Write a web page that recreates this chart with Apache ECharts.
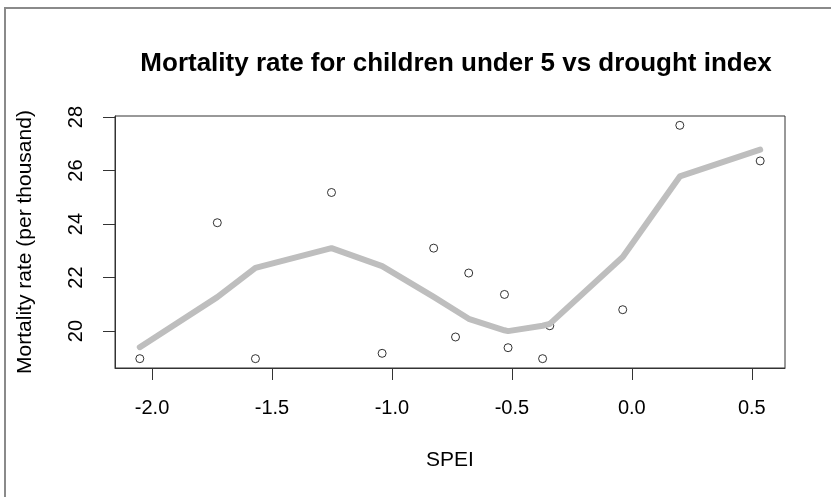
<!DOCTYPE html>
<html>
<head>
<meta charset="utf-8">
<title>Mortality rate vs SPEI</title>
<script src="https://cdn.jsdelivr.net/npm/echarts@6/dist/echarts.min.js"></script>
<style>
  html, body { margin: 0; padding: 0; background: #fff; }
  #chart { width: 831px; height: 497px; }
</style>
</head>
<body>
<div id="chart"></div>
<script>
// Drought index (SPEI) and under-5 mortality rate per observation
const spei      = [-2.051, -1.728, -1.569, -1.252, -1.041, -0.826, -0.735, -0.680, -0.531, -0.516, -0.372, -0.342, -0.038, 0.200, 0.535];
const mortality = [18.97, 24.05, 18.97, 25.18, 19.17, 23.10, 19.78, 22.17, 21.37, 19.38, 18.97, 20.20, 20.80, 27.69, 26.36];

// Smoothed (lowess) fit evaluated at the sorted SPEI values
const smoothX = [-2.051, -1.728, -1.569, -1.252, -1.041, -0.826, -0.735, -0.680, -0.531, -0.516, -0.372, -0.342, -0.038, 0.200, 0.535];
const smoothY = [19.40, 21.27, 22.36, 23.10, 22.43, 21.28, 20.77, 20.46, 20.03, 20.00, 20.20, 20.27, 22.77, 25.78, 26.78];

// Tick positions
const xTicks = [-2.0, -1.5, -1.0, -0.5, 0.0, 0.5];
const yTicks = [20, 22, 24, 26, 28];

// Axis ranges padded by 4% of the data range on each side
function padded(values) {
  const lo = Math.min.apply(null, values), hi = Math.max.apply(null, values);
  const pad = (hi - lo) * 0.04;
  return [lo - pad, hi + pad];
}
const xRange = padded(spei);
const yRange = padded(mortality);

const FONT = '"Liberation Sans", Arial, sans-serif';
const INK = '#333333';

const chart = echarts.init(document.getElementById('chart'), null, { renderer: 'canvas' });

chart.setOption({
  animation: false,
  backgroundColor: '#ffffff',
  title: {
    text: 'Mortality rate for children under 5 vs drought index',
    left: 451,
    textAlign: 'center',
    top: 46,
    textStyle: { fontFamily: FONT, fontSize: 26, fontWeight: 'bold', color: '#000' }
  },
  graphic: [{
    type: 'rect',
    silent: true,
    shape: { x: 5, y: 8, width: 900, height: 600 },
    style: { fill: 'none', stroke: '#8a8a8a', lineWidth: 2 }
  }],
  grid: {
    left: 115, top: 116, right: 46, bottom: 129,
    show: true, borderColor: INK, borderWidth: 1, backgroundColor: 'transparent'
  },
  xAxis: {
    type: 'value',
    min: xRange[0], max: xRange[1],
    name: 'SPEI',
    nameLocation: 'middle',
    nameGap: 82,
    nameTextStyle: { fontFamily: FONT, fontSize: 21, color: '#000' },
    axisLine: { show: true, onZero: false, lineStyle: { color: INK } },
    axisTick: { show: true, inside: false, length: 12, customValues: xTicks, lineStyle: { color: INK } },
    axisLabel: {
      customValues: xTicks,
      margin: 30,
      fontFamily: FONT, fontSize: 20, color: '#000',
      formatter: v => v.toFixed(1)
    },
    splitLine: { show: false }
  },
  yAxis: {
    type: 'value',
    min: yRange[0], max: yRange[1],
    name: 'Mortality rate (per thousand)',
    nameLocation: 'middle',
    nameGap: 79,
    nameTextStyle: { fontFamily: FONT, fontSize: 21, color: '#000' },
    axisLine: { show: true, onZero: false, lineStyle: { color: INK } },
    axisTick: { show: true, inside: false, length: 12, customValues: yTicks, lineStyle: { color: INK } },
    axisLabel: {
      customValues: yTicks,
      rotate: 90,
      margin: 29,
      fontFamily: FONT, fontSize: 20, color: '#000',
      formatter: v => String(Math.round(v))
    },
    splitLine: { show: false }
  },
  series: [
    {
      type: 'scatter',
      data: spei.map((x, i) => [x, mortality[i]]),
      symbol: 'circle',
      symbolSize: 8,
      itemStyle: { color: 'rgba(0,0,0,0)', borderColor: '#000', borderWidth: 1 },
      silent: true,
      z: 2
    },
    {
      type: 'line',
      data: smoothX.map((x, i) => [x, smoothY[i]]),
      showSymbol: false,
      symbol: 'none',
      lineStyle: { color: '#bebebe', width: 6, cap: 'round', join: 'round' },
      silent: true,
      z: 3
    }
  ]
});
</script>
</body>
</html>
